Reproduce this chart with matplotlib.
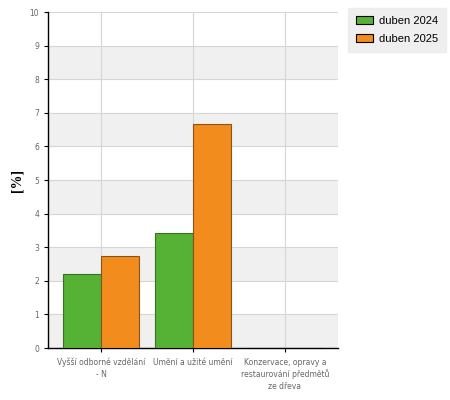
import matplotlib
matplotlib.use('Agg')
import matplotlib.pyplot as plt
import numpy as np

categories = ['Vyšší odborné vzdělání\n- N', 'Umění a užité umění',
              'Konzervace, opravy a\nrestaurování předmětů\nze dřeva']
series_names = ['duben 2024', 'duben 2025']
values_2024 = [2.2, 3.42, 0]
values_2025 = [2.75, 6.66, 0]
y_ticks = list(range(0, 11))

fig = plt.figure(figsize=(4.5, 4.0), dpi=100)
ax = fig.add_axes([0.107, 0.13, 0.644, 0.84])

x = np.arange(len(categories))
w = 0.413

# alternating background bands
for lo in range(0, 10, 2):
    ax.axhspan(lo, lo + 1, color='#f0f0f0', zorder=0, lw=0)
for t in y_ticks[1:]:
    ax.axhline(t, color='#d6d6d6', lw=0.8, zorder=1)
for xi in x:
    ax.axvline(xi, color='#d6d6d6', lw=0.8, zorder=1)

ax.bar(x - w / 2, values_2024, w, color='#55b234', edgecolor='#3d6e28',
       lw=0.8, zorder=3, label=series_names[0])
ax.bar(x + w / 2, values_2025, w, color='#f28c1c', edgecolor='#8a5418',
       lw=0.8, zorder=3, label=series_names[1])

ax.set_xlim(-0.576, 2.576)
ax.set_ylim(0, 10)
ax.set_yticks(y_ticks)
ax.set_xticks(x)
ax.set_xticklabels(categories, fontsize=5.5, color='#666666', linespacing=1.35)
ax.tick_params(axis='y', labelsize=5.5, labelcolor='#666666', length=3, width=0.8)
ax.tick_params(axis='x', length=3, width=0.8, pad=4)
for s in ['top', 'right']:
    ax.spines[s].set_visible(False)
ax.spines['left'].set_linewidth(1.0)
ax.spines['bottom'].set_linewidth(1.0)

ax.set_ylabel('[%]', fontsize=10, fontweight='bold', family='Liberation Serif', labelpad=4)

leg = fig.legend(loc='upper left', bbox_to_anchor=(0.773, 0.98),
                 prop={'family': 'Liberation Sans', 'size': 8},
                 frameon=True, fancybox=False, handlelength=1.6, handleheight=0.8,
                 borderpad=0.7, labelspacing=0.7, handletextpad=0.5, borderaxespad=0)
leg.get_frame().set_facecolor('#ebebeb')
leg.get_frame().set_edgecolor('#ebebeb')
for p in leg.get_patches():
    p.set_edgecolor('black')

fig.savefig('out.png', dpi=100)
